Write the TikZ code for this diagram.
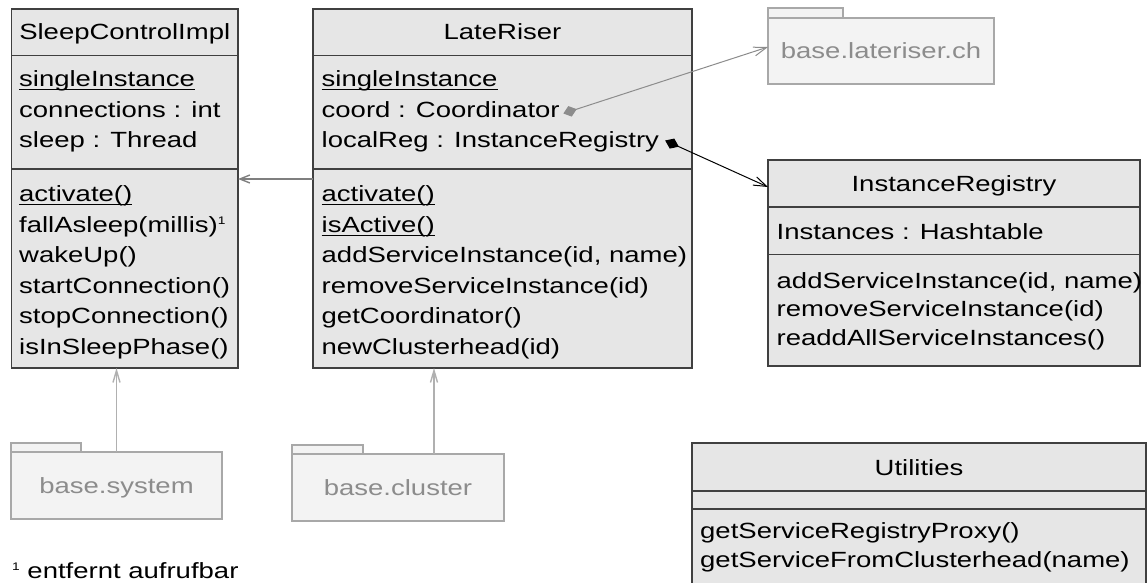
\documentclass[tikz,border=0pt]{standalone}
\usepackage{fontspec}
\setmainfont[FakeStretch=1.25]{Liberation Sans}
\usetikzlibrary{arrows.meta}

\definecolor{clsfill}{HTML}{E6E6E6}
\definecolor{clsline}{HTML}{404040}
\definecolor{pkgfill}{HTML}{F3F3F3}
\definecolor{pkgline}{HTML}{A8A8A8}
\definecolor{pkgtext}{HTML}{8C8C8C}
\definecolor{depline}{HTML}{7F7F7F}
\definecolor{useline}{HTML}{B0B0B0}
\definecolor{aggline}{HTML}{8C8C8C}

% underline for static members, drawn at a fixed depth below the baseline
\newcommand{\staticmember}[1]{\setbox0\hbox{#1}\rlap{\rule[-3.5bp]{\wd0}{1.1bp}}\box0}
\newcommand{\footmark}{\raisebox{8bp}{\fontsize{11bp}{11bp}\selectfont 1}}

\tikzset{
  comp/.style={draw=clsline, fill=clsfill, line width=1.3bp, inner sep=0pt,
               anchor=north west, outer sep=0pt},
  pkgpart/.style={draw=pkgline, fill=pkgfill, line width=1.2bp, inner sep=0pt,
                  anchor=north west, outer sep=0pt},
  member/.style={inner sep=0pt, anchor=base west},
  cname/.style={inner sep=0pt, anchor=base},
  pname/.style={inner sep=0pt, text=pkgtext},
  depend/.style={draw=depline, line width=1.4bp, -{Straight Barb[length=10bp,width=8bp]}},
  uses/.style={draw=useline, line width=1.4bp, -{Straight Barb[length=12bp,width=7bp]}},
  sharedagg/.style={draw=aggline, line width=1bp,
    {Diamond[length=14bp,width=11bp,fill=aggline]}-{Straight Barb[length=13bp,width=9bp]}},
  composed/.style={draw=black, line width=1bp,
    {Diamond[length=15bp,width=11bp,fill=black]}-{Straight Barb[length=13bp,width=9bp]}},
}

\begin{document}
\begin{tikzpicture}[x=1bp, y=-1bp, font=\fontsize{22bp}{30bp}\selectfont]
\useasboundingbox (0,0) rectangle (1148,583);
\clip (0,0) rectangle (1148,583);
\fill[white] (0,0) rectangle (1148,583);

% ---------- SleepControlImpl ----------
\node[comp, minimum width=226.5bp, minimum height=46.7bp] (sci-title) at (11.5,9) {};
\node[comp, minimum width=226.5bp, minimum height=113.3bp] (sci-attr) at (11.5,55.7) {};
\node[comp, minimum width=226.5bp, minimum height=199bp] (sci-meth) at (11.5,169) {};
\node[cname] (sci-name) at (124.75,40) {SleepControlImpl};
\node[member] (sci-a1) at (19,87) {\staticmember{singleInstance}};
\node[member] (sci-a2) at (19,117.5) {connections : int};
\node[member] (sci-a3) at (19,148) {sleep : Thread};
\node[member] (sci-m1) at (19,202) {\staticmember{activate()}};
\node[member] (sci-m2) at (19,232.5) {fallAsleep(millis)\footmark};
\node[member] (sci-m3) at (19,263) {wakeUp()};
\node[member] (sci-m4) at (19,293.5) {startConnection()};
\node[member] (sci-m5) at (19,324) {stopConnection()};
\node[member] (sci-m6) at (19,354.5) {isInSleepPhase()};

% ---------- LateRiser ----------
\node[comp, minimum width=379bp, minimum height=46.7bp] (lr-title) at (313,9) {};
\node[comp, minimum width=379bp, minimum height=113.3bp] (lr-attr) at (313,55.7) {};
\node[comp, minimum width=379bp, minimum height=199bp] (lr-meth) at (313,169) {};
\node[cname] (lr-name) at (502.5,40) {LateRiser};
\node[member] (lr-a1) at (321.5,87) {\staticmember{singleInstance}};
\node[member] (lr-a2) at (321.5,117.5) {coord : Coordinator};
\node[member] (lr-a3) at (321.5,148) {localReg : InstanceRegistry};
\node[member] (lr-m1) at (321.5,202) {\staticmember{activate()}};
\node[member] (lr-m2) at (321.5,232.5) {\staticmember{isActive()}};
\node[member] (lr-m3) at (321.5,263) {addServiceInstance(id, name)};
\node[member] (lr-m4) at (321.5,293.5) {removeServiceInstance(id)};
\node[member] (lr-m5) at (321.5,324) {getCoordinator()};
\node[member] (lr-m6) at (321.5,354.5) {newClusterhead(id)};

% ---------- InstanceRegistry ----------
\node[comp, minimum width=372bp, minimum height=47bp] (ir-title) at (768,160) {};
\node[comp, minimum width=372bp, minimum height=47.5bp] (ir-attr) at (768,207) {};
\node[comp, minimum width=372bp, minimum height=111.5bp] (ir-meth) at (768,254.5) {};
\node[cname] (ir-name) at (954,192) {InstanceRegistry};
\node[member] (ir-a1) at (776.5,240) {Instances : Hashtable};
\node[member] (ir-m1) at (776.5,289) {addServiceInstance(id, name)};
\node[member] (ir-m2) at (776.5,317) {removeServiceInstance(id)};
\node[member] (ir-m3) at (776.5,345) {readdAllServiceInstances()};

% ---------- Utilities ----------
\node[comp, minimum width=454bp, minimum height=48bp] (ut-title) at (692,443) {};
\node[comp, minimum width=454bp, minimum height=18bp] (ut-attr) at (692,491) {};
\node[comp, minimum width=454bp, minimum height=91bp] (ut-meth) at (692,509) {};
\node[cname] (ut-name) at (919,475) {Utilities};
\node[member] (ut-m1) at (700,538) {getServiceRegistryProxy()};
\node[member] (ut-m2) at (700,567) {getServiceFromClusterhead(name)};

% ---------- packages ----------
\node[pkgpart, minimum width=75bp, minimum height=10bp] (lat-tab) at (768,8) {};
\node[pkgpart, minimum width=226bp, minimum height=66bp] (lat-body) at (768,18) {};
\node[pname] (lat-name) at (lat-body.center) {base.lateriser.ch};

\node[pkgpart, minimum width=70bp, minimum height=9bp] (sys-tab) at (11,443) {};
\node[pkgpart, minimum width=211bp, minimum height=67bp] (sys-body) at (11,452) {};
\node[pname] (sys-name) at ([yshift=-2bp]sys-body.center) {base.system};

\node[pkgpart, minimum width=71bp, minimum height=9bp] (clu-tab) at (292,445) {};
\node[pkgpart, minimum width=212bp, minimum height=67bp] (clu-body) at (292,454) {};
\node[pname] (clu-name) at (clu-body.center) {base.cluster};

% ---------- footnote ----------
\node[member] (fn) at (12,578) {\footmark\ entfernt aufrufbar};

% ---------- connectors ----------
\draw[depend] ([yshift=-10bp]lr-meth.north west) -- ([yshift=-10bp]sci-meth.north east);
\draw[uses] (sys-body.north) -- (sys-body.north |- sci-meth.south);
\draw[uses] ([xshift=36bp]clu-body.north) -- ([xshift=36bp]clu-body.north |- lr-meth.south);
\draw[sharedagg] ([shift={(3.5bp,4bp)}]lr-a2.base east) -- ([yshift=4bp]lat-body.west);
\draw[composed] ([shift={(6bp,7.5bp)}]lr-a3.base east) -- ([yshift=-3.5bp]ir-title.west);
\end{tikzpicture}
\end{document}
